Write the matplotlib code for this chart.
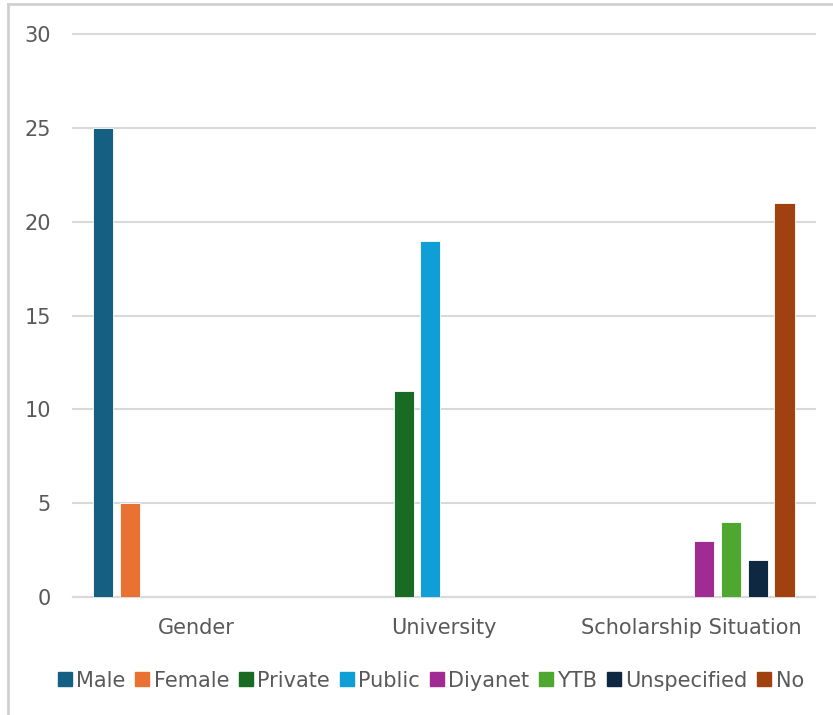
import numpy as np
import matplotlib.pyplot as plt
from matplotlib.lines import Line2D

categories = ["Gender", "University", "Scholarship Situation"]
series = ["Male", "Female", "Private", "Public", "Diyanet", "YTB", "Unspecified", "No"]
# value of each series in each category (0 = not present)
male = [25, 0, 0]
female = [5, 0, 0]
private = [0, 11, 0]
public = [0, 19, 0]
diyanet = [0, 0, 3]
ytb = [0, 0, 4]
unspecified = [0, 0, 2]
no = [0, 0, 21]
values = [male, female, private, public, diyanet, ytb, unspecified, no]
colors = ["#156082", "#E97132", "#196B24", "#0F9ED5", "#A02B93", "#4EA72E", "#0E2841", "#A0410F"]

plt.rcParams['font.family'] = ['DejaVu Sans']
text_col = "#595959"
grid_col = "#D9D9D9"

fig = plt.figure(figsize=(8.33, 7.15), dpi=100)
ax = fig.add_axes([0.0876, 0.165, 0.8904, 0.787])

x = np.arange(len(categories))
slot = 0.108
width = 0.081
for i, (name, vals, c) in enumerate(zip(series, values, colors)):
    off = (i - 3.5) * slot
    xs = [xi + off for xi, v in zip(x, vals) if v > 0]
    vs = [v for v in vals if v > 0]
    ax.bar(xs, vs, width=width, color=c, edgecolor="white", linewidth=0.6, zorder=3)

ax.set_xlim(-0.5, 2.5)
ax.set_ylim(0, 30)
ax.set_yticks(range(0, 31, 5))
ax.set_xticks(x)
ax.set_xticklabels(categories)
ax.tick_params(axis='both', length=0, labelsize=15, colors=text_col)
ax.tick_params(axis='x', pad=15)
ax.tick_params(axis='y', pad=16)
ax.grid(axis='y', color=grid_col, linewidth=1.5, zorder=0)
for gl in ax.get_ygridlines():
    gl.set_clip_on(False)
for s in ["top", "right", "left"]:
    ax.spines[s].set_visible(False)
ax.spines["bottom"].set_color(grid_col)
ax.spines["bottom"].set_linewidth(1.5)

handles = [Line2D([], [], marker='s', linestyle='none', markersize=10, color=c) for c in colors]
fig.legend(handles, series, loc='center', bbox_to_anchor=(0.517, 0.048), ncol=8,
           frameon=False, fontsize=15, handlelength=0.7, handletextpad=0.2,
           columnspacing=0.45, labelcolor=text_col)

# chart frame
fig.add_artist(Line2D([8/833, 8/833], [0, 1 - 4/715], transform=fig.transFigure, color="#D0D0D0", lw=2))
fig.add_artist(Line2D([8/833, 1], [1 - 4/715, 1 - 4/715], transform=fig.transFigure, color="#D0D0D0", lw=2))

fig.savefig("out.png", dpi=100)
